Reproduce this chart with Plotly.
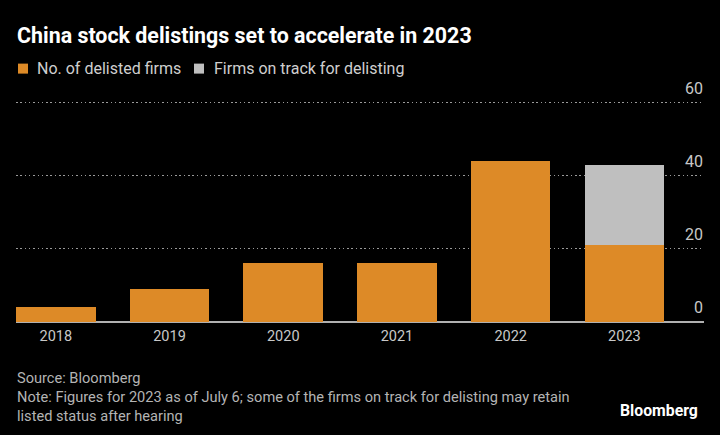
import plotly.graph_objects as go

years = ["2018", "2019", "2020", "2021", "2022", "2023"]
delisted = [4, 9, 16, 16, 44, 21]
on_track = [None, None, None, None, None, 22]
y_ticks = [0, 20, 40, 60]

title = "China stock delistings set to accelerate in 2023"
legend_names = ["No. of delisted firms", "Firms on track for delisting"]
footer_lines = [
    "Source: Bloomberg",
    "Note: Figures for 2023 as of July 6; some of the firms on track for delisting may retain",
    "listed status after hearing",
]

ORANGE = "#dd8a27"
GREY = "#bfbfbf"
W, H = 720, 435
L, R = 16, 16
B = 112.5
Y_MAX = 67
PH = (H - B - 103) * Y_MAX / 60
T = H - B - PH
PW = W - L - R


def px(x):
    return (x - L) / PW


def py(y):
    return (H - B - y) / PH


fig = go.Figure()
fig.add_bar(x=years, y=delisted, name=legend_names[0],
            marker=dict(color=ORANGE, line=dict(width=0)))
fig.add_bar(x=years, y=on_track, name=legend_names[1],
            marker=dict(color=GREY, line=dict(width=0)))

FONT = "Roboto"
fig.update_layout(
    width=W, height=H,
    margin=dict(l=L, r=R, t=T, b=B, pad=0, autoexpand=False),
    paper_bgcolor="#000000", plot_bgcolor="#000000",
    barmode="stack", bargap=0.3,
    font=dict(family=FONT, color="#c8c8c8", size=14),
    showlegend=False,
    xaxis=dict(range=[-0.35, 5.70], showgrid=False, zeroline=False, showline=False,
               automargin=False, ticks="", tickfont=dict(size=14.5, color="#c8c8c8"),
               ticklabelstandoff=3),
    yaxis=dict(range=[0, Y_MAX], side="right", tickvals=y_ticks, showticklabels=False,
               automargin=False, showgrid=True, gridcolor="#9a9a9a",
               griddash="1.5px,2.8px", gridwidth=1, zeroline=True, zerolinecolor="#b0b0b0",
               zerolinewidth=1.5, showline=False, ticks=""),
)

# y tick labels sit above their gridlines, right-aligned at the plot edge
for v in y_ticks:
    fig.add_annotation(text=str(v), xref="paper", yref="y", x=px(705), y=v,
                       xanchor="right", yanchor="middle", yshift=14.5, showarrow=False,
                       font=dict(family=FONT, size=16, color="#c8c8c8"))

fig.add_annotation(text="<b>" + title + "</b>",
                   xref="paper", yref="paper", x=px(15), y=py(36),
                   xanchor="left", yanchor="middle", showarrow=False,
                   font=dict(family=FONT, size=21.4, color="#ffffff"))

# legend (manual, to match the reference spacing)
legend_items = [(ORANGE, 18, 35), (GREY, 194, 211.5)]
for (col, sx, tx), name in zip(legend_items, legend_names):
    fig.add_shape(type="rect", xref="paper", yref="paper",
                  x0=px(sx), x1=px(sx + 10), y0=py(74), y1=py(64),
                  fillcolor=col, line=dict(width=0))
    fig.add_annotation(text=name, xref="paper", yref="paper", x=px(tx), y=py(69),
                       xanchor="left", yanchor="middle", showarrow=False,
                       font=dict(family=FONT, size=16, color="#cfcfcf"))

fig.add_annotation(text="<br>".join(footer_lines), xref="paper", yref="paper",
                   x=px(15), y=py(397.5),
                   xanchor="left", yanchor="middle", align="left", showarrow=False,
                   font=dict(family=FONT, size=14.6, color="#b4b4b4"))

fig.add_annotation(text="<b>Bloomberg</b>",
                   xref="paper", yref="paper", x=px(700), y=py(411),
                   xanchor="right", yanchor="middle", showarrow=False,
                   font=dict(family=FONT, size=15.8, color="#ffffff"))

fig.write_html("out.html", config={"displayModeBar": False},
               post_script="document.body.style.margin='0';document.body.style.background='#000';")
